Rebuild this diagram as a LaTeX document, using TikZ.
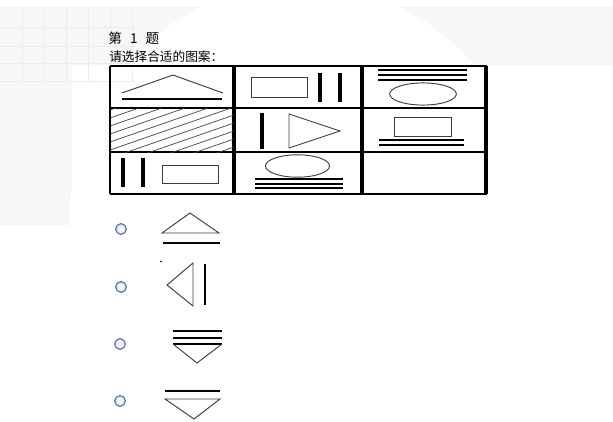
\documentclass[tikz,border=0pt]{standalone}
\usepackage{fontspec}
\newfontfamily\cjkfont{Noto Sans CJK SC}
\definecolor{PaleBg}{RGB}{247,247,247}
\definecolor{GridLine}{RGB}{236,236,236}
\definecolor{RadioRim}{RGB}{84,122,168}
\definecolor{ShapeGray}{RGB}{60,60,60}

\begin{document}
\begin{tikzpicture}[
    x=0.75pt, y=-0.75pt,
    thinline/.style={draw=ShapeGray, line width=0.7pt},
    hatch/.style={draw=ShapeGray, line width=0.5pt},
    bar/.style={line width=3pt},
    rulebar/.style={line width=1.5pt},
    cellrule/.style={line width=1pt},
    divider/.style={line width=3pt},
    radio/.style={draw=RadioRim, line width=0.9pt, inner color=white, outer color=RadioRim!20},
    label/.style={anchor=west, inner sep=0pt, font=\cjkfont}
]
\useasboundingbox (0,0) rectangle (613,421);
% faint page background
\fill[PaleBg] (0,7) rectangle (613,65);
\fill[PaleBg] (0,7) rectangle (72,225);
\fill[white] (300,215) circle [radius=172.5pt];
\foreach \gx in {22,44,66,88,110,132}
  \draw[GridLine, line width=0.6pt] (\gx,7) -- (\gx,81);
\foreach \gy in {27,46,63,81}
  \draw[GridLine, line width=0.6pt] (0,\gy) -- (135,\gy);

% heading
\node[label, font=\cjkfont\fontsize{10.2pt}{12pt}\selectfont] (title) at (108,38) {第\hspace{0.6em}1\hspace{0.6em}题};
\node[label, font=\cjkfont\fontsize{9.5pt}{11pt}\selectfont] (prompt) at (109,57) {请选择合适的图案：};

% matrix frame
\draw[cellrule] (110,66) -- (487,66);
\draw[cellrule] (110,108) -- (487,108);
\draw[cellrule] (110,152) -- (487,152);
\draw[cellrule] (110,194) -- (487,194);
\draw[cellrule] (110,66) -- (110,194);
\draw[divider] (234,66) -- (234,194);
\draw[line width=2.5pt] (362,66) -- (362,194);
\draw[divider] (486,66) -- (486,194);

% row 1
\draw[thinline] (122,93) -- (173,75) -- (223,93);
\draw[rulebar] (122,98.5) -- (222,98.5);
\draw[thinline] (251,77) rectangle (307,97);
\draw[bar] (320,73) -- (320,102);
\draw[bar] (340,73) -- (340,102);
\draw[rulebar] (378,70) -- (467,70);
\draw[rulebar] (378,75) -- (467,75);
\draw[rulebar] (378,80) -- (467,80);
\draw[thinline] (423,94) ellipse [x radius=25pt, y radius=8.3pt];

% row 2
\begin{scope}
  \clip (110,108) rectangle (234,152);
  \foreach \k in {0,...,11}
    \draw[hatch] (110,{110+8*\k}) -- (234,{67+8*\k});
\end{scope}
\draw[bar] (262,113) -- (262,149);
\draw[thinline] (289,114) -- (340,131) -- (289,148) -- cycle;
\draw[thinline] (394,117) rectangle (451,136);
\draw[rulebar] (379,140) -- (464,140);
\draw[rulebar] (379,144.5) -- (464,144.5);

% row 3
\draw[bar] (123,158) -- (123,187);
\draw[bar] (143,158) -- (143,187);
\draw[thinline] (162,165) rectangle (218,183);
\draw[thinline] (297.5,166) ellipse [x radius=24pt, y radius=8.4pt];
\draw[rulebar] (255,179) -- (343,179);
\draw[rulebar] (255,183.5) -- (343,183.5);
\draw[rulebar] (255,188) -- (343,188);

% answer choices
\fill[radio] (121,229) circle [radius=4pt];
\draw[thinline] (162,233) -- (190,213) -- (219,233) -- cycle;
\draw[rulebar] (163,243) -- (220,243);

\fill[radio] (121,287) circle [radius=4pt];
\draw[thinline] (193,263) -- (167,285) -- (193,306) -- cycle;
\draw[line width=1.5pt] (205,264) -- (205,305);
\draw[line width=0.6pt] (160,261) -- (162,262);

\fill[radio] (120,344) circle [radius=4pt];
\draw[rulebar] (173,331) -- (222,331);
\draw[rulebar] (173,337.5) -- (222,337.5);
\draw[rulebar] (173,344) -- (222,344);
\draw[thinline] (173,344) -- (197,363) -- (222,344);

\fill[radio] (120,401) circle [radius=4pt];
\draw[rulebar] (165,391) -- (220,391);
\draw[thinline] (165,399) -- (194,419) -- (220,399) -- cycle;
\end{tikzpicture}
\end{document}
